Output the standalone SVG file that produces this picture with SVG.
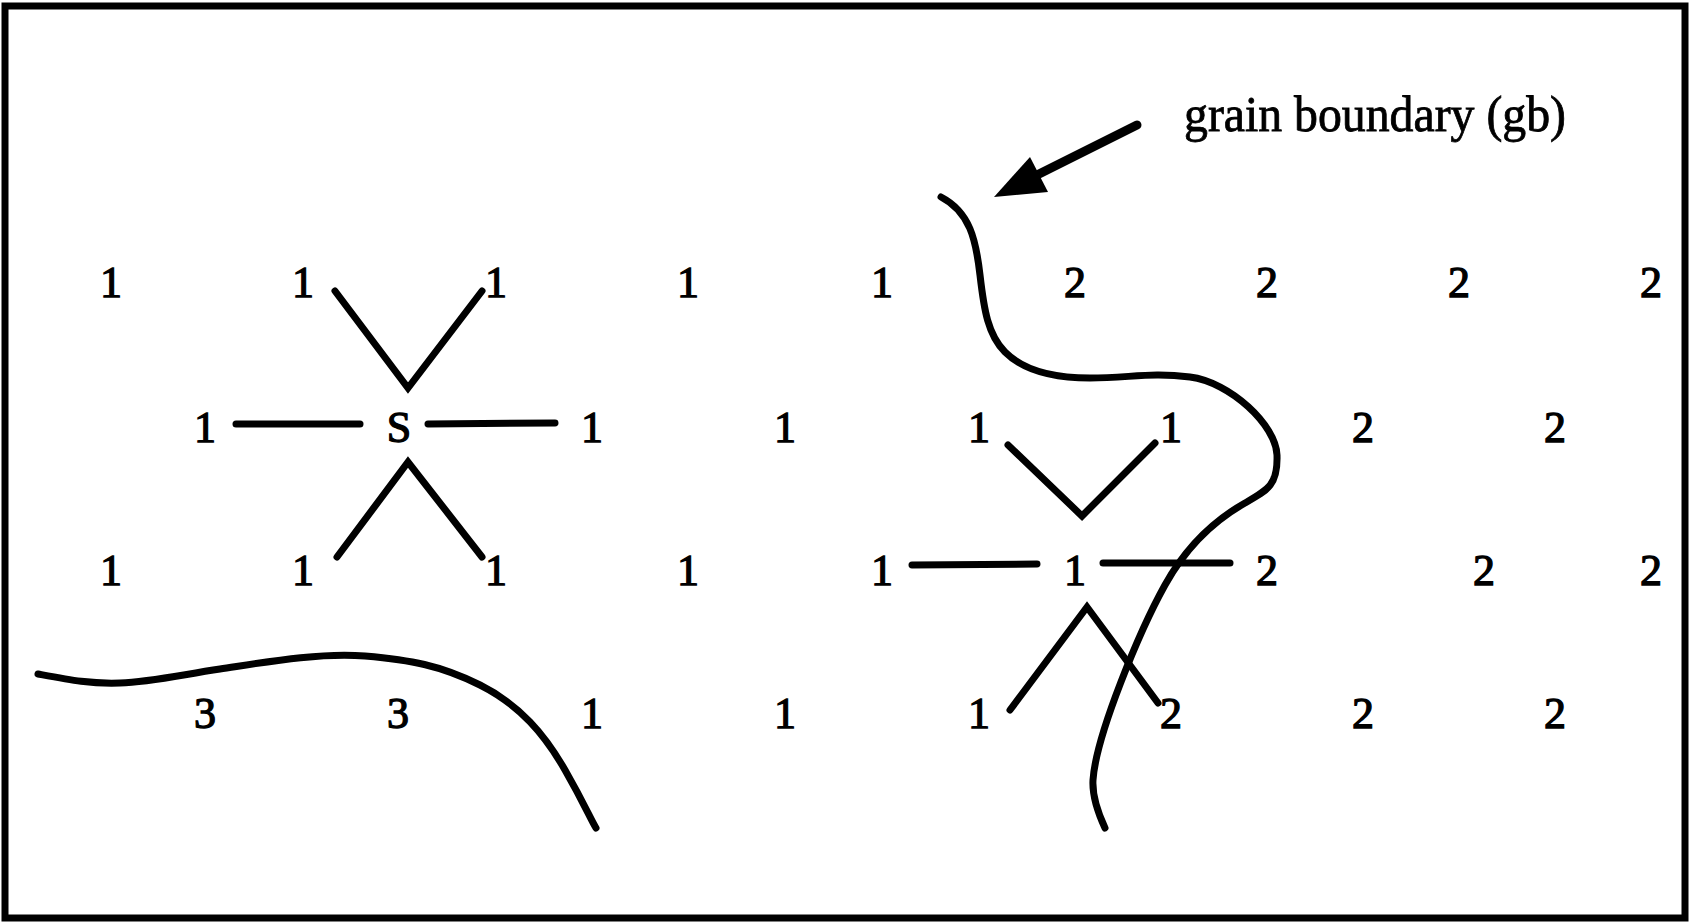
<svg xmlns="http://www.w3.org/2000/svg" width="1690" height="924" viewBox="0 0 1690 924">
<style>
.t{font-family:"Liberation Serif","Times New Roman",serif;font-size:44px;fill:#000;stroke:#000;stroke-width:1.3;text-anchor:middle}
.title{font-family:"Liberation Serif","Times New Roman",serif;font-size:50px;fill:#000;stroke:#000;stroke-width:0.8}
.b{fill:none;stroke:#000;stroke-width:7;stroke-linecap:round;stroke-linejoin:miter}
.gb{fill:none;stroke:#000;stroke-width:7;stroke-linecap:round;stroke-linejoin:round}
</style>
<rect x="5" y="6" width="1680" height="912" fill="#fff" stroke="#000" stroke-width="7"/>
<g id="title">
<text class="title" x="1184" y="131" textLength="382" lengthAdjust="spacingAndGlyphs">grain boundary (gb)</text>
</g>
<g id="arrow">
<line x1="1137" y1="125" x2="1035" y2="176" stroke="#000" stroke-width="9" stroke-linecap="round"/>
<polygon points="994,197 1048,192 1030,157" fill="#000"/>
</g>
<g id="grain-boundaries">
<path id="gb-right" class="gb" d="M941,197 C970,212 976,240 980,275 S988,335 1005,352 S1050,378 1090,378 S1150,372 1190,377 S1276,425 1277,455 S1268,490 1245,503 S1190,540 1165,585 S1096,735 1093,780 C1092,797 1099,815 1105,828"/>
<path id="gb-left" class="gb" d="M38,674 C70,680 90,684 120,683 S180,675 220,669 S320,652 365,656 S440,665 480,685 S545,735 565,770 S590,818 596,828"/>
</g>
<g id="connectors">
<polyline class="b" points="335,291 408,388 482,291"/>
<line class="b" x1="236" y1="424" x2="360" y2="424"/>
<line class="b" x1="428" y1="424" x2="555" y2="423"/>
<polyline class="b" points="337,557 408,462 482,557"/>
<polyline class="b" points="1008,445 1082,516 1155,443"/>
<line class="b" x1="912" y1="565" x2="1037" y2="564"/>
<line class="b" x1="1103" y1="563" x2="1230" y2="563"/>
<polyline class="b" points="1010,710 1087,607 1158,703"/>
</g>
<g id="row1">
<text class="t" x="111" y="297">1</text>
<text class="t" x="303" y="297">1</text>
<text class="t" x="496" y="297">1</text>
<text class="t" x="688" y="297">1</text>
<text class="t" x="882" y="297">1</text>
<text class="t" x="1075" y="297">2</text>
<text class="t" x="1267" y="297">2</text>
<text class="t" x="1459" y="297">2</text>
<text class="t" x="1651" y="297">2</text>
</g>
<g id="row2">
<text class="t" x="205" y="442">1</text>
<text class="t" x="399" y="442">S</text>
<text class="t" x="592" y="442">1</text>
<text class="t" x="785" y="442">1</text>
<text class="t" x="979" y="442">1</text>
<text class="t" x="1171" y="442">1</text>
<text class="t" x="1363" y="442">2</text>
<text class="t" x="1555" y="442">2</text>
</g>
<g id="row3">
<text class="t" x="111" y="585">1</text>
<text class="t" x="303" y="585">1</text>
<text class="t" x="496" y="585">1</text>
<text class="t" x="688" y="585">1</text>
<text class="t" x="882" y="585">1</text>
<text class="t" x="1075" y="585">1</text>
<text class="t" x="1267" y="585">2</text>
<text class="t" x="1484" y="585">2</text>
<text class="t" x="1651" y="585">2</text>
</g>
<g id="row4">
<text class="t" x="205" y="728">3</text>
<text class="t" x="398" y="728">3</text>
<text class="t" x="592" y="728">1</text>
<text class="t" x="785" y="728">1</text>
<text class="t" x="979" y="728">1</text>
<text class="t" x="1171" y="728">2</text>
<text class="t" x="1363" y="728">2</text>
<text class="t" x="1555" y="728">2</text>
</g>
</svg>
